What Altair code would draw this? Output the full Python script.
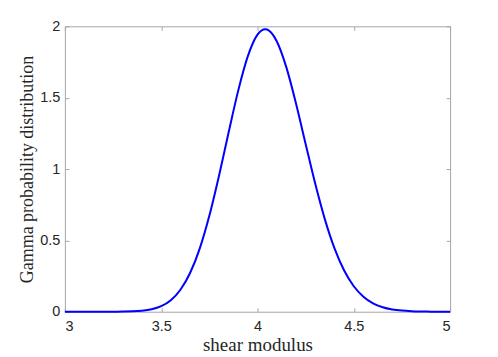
import altair as alt
import pandas as pd

# values
x_vals = [3.00, 3.05, 3.10, 3.15, 3.20, 3.25, 3.30, 3.35, 3.40, 3.45,
          3.50, 3.55, 3.60, 3.65, 3.70, 3.75, 3.80, 3.85, 3.90, 3.95,
          4.00, 4.04, 4.05, 4.10, 4.15, 4.20, 4.25, 4.30, 4.35, 4.40,
          4.45, 4.50, 4.55, 4.60, 4.65, 4.70, 4.75, 4.80, 4.85, 4.90,
          4.95, 5.00]
y_vals = [0.0000, 0.0000, 0.0000, 0.0000, 0.0001, 0.0003, 0.0010, 0.0027, 0.0073, 0.0176,
          0.0394, 0.0811, 0.1540, 0.2712, 0.4427, 0.6723, 0.9514, 1.2559, 1.5494, 1.7907,
          1.9414, 1.9800, 1.9776, 1.8956, 1.7123, 1.4596, 1.1759, 0.8964, 0.6474, 0.4438,
          0.2886, 0.1786, 0.1053, 0.0591, 0.0316, 0.0162, 0.0079, 0.0037, 0.0017, 0.0007,
          0.0003, 0.0001]

x_ticks = [3, 3.5, 4, 4.5, 5]
y_ticks = [0, 0.5, 1, 1.5, 2]

df = pd.DataFrame({"x": x_vals, "y": y_vals})

GRAY = "#a6a6a6"
LABEL = "#262626"
SANS = "Liberation Sans"
SERIF = "Liberation Serif"

xs = alt.Scale(domain=[3, 5], nice=False, zero=False)
ys = alt.Scale(domain=[0, 2], nice=False, zero=False)

main = alt.Chart(df).mark_line(color="#0000ff", strokeWidth=2, interpolate="monotone").encode(
    x=alt.X("x:Q", scale=xs, axis=alt.Axis(
        orient="bottom", values=x_ticks, format="~g", ticks=False, tickSize=0, domain=False,
        grid=False, labelPadding=8, labelFont=SANS, labelFontSize=14.5, labelColor=LABEL,
        title="shear modulus", titleFont=SERIF, titleFontSize=19, titleFontWeight="normal",
        titleColor=LABEL, titlePadding=2)),
    y=alt.Y("y:Q", scale=ys, axis=alt.Axis(
        orient="left", values=y_ticks, format="~g", ticks=False, tickSize=0, domain=False,
        grid=False, labelPadding=5, labelFont=SANS, labelFontSize=14.5, labelColor=LABEL,
        title="Gamma probability distribution", titleFont=SERIF, titleFontSize=18,
        titleFontWeight="normal", titleColor=LABEL, titlePadding=3)),
)

def tick_layer(xo, yo):
    return alt.Chart(df).mark_line(opacity=0).encode(
        x=alt.X("x:Q", scale=xs, axis=alt.Axis(
            orient=xo, values=x_ticks, offset=-4, tickSize=4, tickColor=GRAY, tickWidth=1,
            labels=False, domain=False, grid=False, title=None)),
        y=alt.Y("y:Q", scale=ys, axis=alt.Axis(
            orient=yo, values=y_ticks, offset=-4, tickSize=4, tickColor=GRAY, tickWidth=1,
            labels=False, domain=False, grid=False, title=None)),
    )

chart = alt.layer(main, tick_layer("bottom", "left"), tick_layer("top", "right")).resolve_axis(
    x="independent", y="independent"
).properties(
    width=386, height=286,
    autosize=alt.AutoSizeParams(type="none"),
    padding={"left": 57, "top": 18, "right": 40, "bottom": 45},
).configure_view(stroke=GRAY, strokeWidth=1)

chart.save("out.html", embed_options={"renderer": "svg", "actions": False})
